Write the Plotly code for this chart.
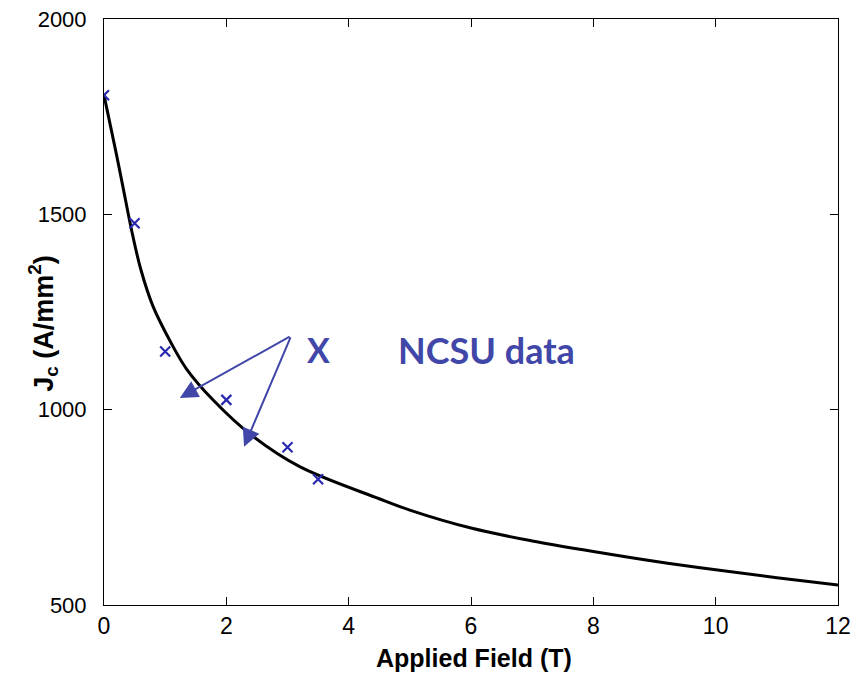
import plotly.graph_objects as go

# fitted curve
field_fit = [0, 0.2, 0.3, 0.45, 0.6, 0.8, 1.1, 1.35, 1.8, 2.4, 3.2, 4.5, 5, 6, 7, 8, 9, 10, 11, 12]
jc_fit = [1805, 1656, 1578, 1460, 1360, 1265, 1170, 1104, 1022, 936, 854, 772, 743, 697, 664, 637, 612, 590, 570, 551]

# NCSU measured points
field_data = [0, 0.5, 1, 2, 3, 3.5]
jc_data = [1805, 1477, 1149, 1025, 904, 822]

x_ticks = [0, 2, 4, 6, 8, 10, 12]
y_ticks = [500, 1000, 1500, 2000]

blue = "#4147a8"
mark_blue = "#2a2ab0"

fig = go.Figure()
fig.add_trace(go.Scatter(x=field_fit, y=jc_fit, mode="lines", line=dict(color="black", width=3, shape="spline"),
                         showlegend=False))
fig.add_trace(go.Scatter(x=field_data, y=jc_data, mode="markers",
                         marker=dict(symbol="x-thin-open", size=10, color=mark_blue,
                                     line=dict(color=mark_blue, width=2.2)),
                         showlegend=False))

# arrows from the label to the curve
for hx, hy in [(1.24, 1030), (2.29, 905)]:
    fig.add_annotation(x=hx, y=hy, ax=3.06, ay=1189, axref="x", ayref="y", text="",
                       showarrow=True, arrowhead=2, arrowsize=1.8, arrowwidth=2, arrowcolor=blue)

fig.add_annotation(x=3.5, y=1153, text="<b>X</b>", showarrow=False,
                   font=dict(family="Lato, Open Sans, sans-serif", size=34, color=blue))
fig.add_annotation(x=4.77, y=1153, text="<b>NCSU data</b>", showarrow=False, xanchor="left",
                   font=dict(family="Lato, Open Sans, sans-serif", size=36, color=blue))

# axis titles placed by hand
fig.add_annotation(xref="paper", yref="paper", x=0.504, y=-0.09, text="<b>Applied Field (T)</b>",
                   showarrow=False, yanchor="middle",
                   font=dict(family="Liberation Sans, Arial", size=25, color="black"))
fig.add_annotation(xref="paper", yref="paper", x=-0.083, y=0.48, text="<b>J<sub>c</sub> (A/mm<sup>2</sup>)</b>",
                   showarrow=False, textangle=-90, xanchor="center", yanchor="middle",
                   font=dict(family="Liberation Sans, Arial", size=27, color="black"))

axis_style = dict(showline=True, linecolor="black", linewidth=1, mirror="allticks", ticks="inside",
                  ticklen=8, tickcolor="black", showgrid=False, zeroline=False, automargin=False,
                  ticklabeloverflow="allow")

fig.update_xaxes(range=[0, 12], tickvals=x_ticks, ticklabelstandoff=0, **axis_style,
                 tickfont=dict(family="Liberation Sans, Arial", size=23, color="black"))
fig.update_yaxes(range=[500, 2000], tickvals=y_ticks, ticklabelstandoff=12, **axis_style,
                 tickfont=dict(family="Liberation Sans, Arial", size=22, color="black"))

fig.update_layout(width=856, height=674, paper_bgcolor="white", plot_bgcolor="white",
                  margin=dict(l=104, r=18, t=19, b=69))

# drop the default 8px page margin so the figure fills the window
fig.write_html("out.html", config={"displayModeBar": False},
               post_script="document.body.style.margin='0';")
